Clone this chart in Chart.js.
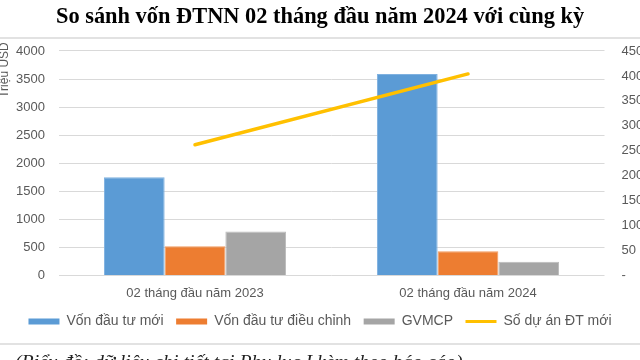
<!DOCTYPE html>
<html>
<head>
<meta charset="utf-8">
<script src="https://cdn.jsdelivr.net/npm/chart.js@4/dist/chart.umd.min.js"></script>
<style>
html,body{margin:0;padding:0;background:#fff;overflow:hidden;}
#wrap{position:relative;width:640px;height:360px;}
</style>
</head>
<body>
<div id="wrap"><canvas id="c" width="640" height="360"></canvas></div>
<script>
const categories = ['02 tháng đầu năm 2023', '02 tháng đầu năm 2024'];
const vonDauTuMoi = [1750, 3590];
const vonDieuChinh = [520, 431];
const gvmcp = [785, 243];
const soDuAnMoi = [262, 404];
const seriesNames = ['Vốn đầu tư mới', 'Vốn đầu tư điều chỉnh', 'GVMCP', 'Số dự án ĐT mới'];
const leftTicks = [0, 500, 1000, 1500, 2000, 2500, 3000, 3500, 4000];
const rightTicks = [0, 50, 100, 150, 200, 250, 300, 350, 400, 450];
const titleText = 'So sánh vốn ĐTNN 02 tháng đầu năm 2024 với cùng kỳ';
const axisTitle = 'Triệu USD';
const captionText = '(Biểu đồ: dữ liệu chi tiết tại Phụ lục I kèm theo báo cáo)';

const FONT = "'Liberation Sans', Arial, sans-serif";
const TXT = '#595959';

const decor = {
  id: 'decor',
  beforeDraw(chart) {
    const ctx = chart.ctx;
    ctx.save();
    ctx.fillStyle = '#e2e2e2';
    ctx.fillRect(0, 37, 640, 2);
    ctx.fillRect(0, 343, 640, 2);
    ctx.restore();
  },
  afterDraw(chart) {
    const ctx = chart.ctx;
    ctx.save();
    ctx.fillStyle = TXT;
    ctx.font = "12px " + FONT;
    ctx.translate(8, 70);
    ctx.rotate(-Math.PI / 2);
    ctx.textAlign = 'center';
    ctx.textBaseline = 'alphabetic';
    ctx.fillText(axisTitle, 0, 0);
    ctx.restore();
    ctx.save();
    ctx.fillStyle = '#222';
    ctx.font = "italic 19.8px 'Liberation Serif', 'Times New Roman', serif";
    ctx.textAlign = 'left';
    ctx.textBaseline = 'alphabetic';
    ctx.fillText(captionText, 15, 368);
    ctx.restore();
  }
};

new Chart(document.getElementById('c'), {
  data: {
    labels: categories,
    datasets: [
      { type: 'bar', label: seriesNames[0], data: vonDauTuMoi, backgroundColor: '#5B9BD5', borderColor: '#7fb1e0', borderWidth: 1, yAxisID: 'y', order: 1 },
      { type: 'bar', label: seriesNames[1], data: vonDieuChinh, backgroundColor: '#ED7D31', borderColor: '#f29a5e', borderWidth: 1, yAxisID: 'y', order: 1 },
      { type: 'bar', label: seriesNames[2], data: gvmcp, backgroundColor: '#A5A5A5', borderColor: '#bcbcbc', borderWidth: 1, yAxisID: 'y', order: 1 },
      { type: 'line', label: seriesNames[3], data: soDuAnMoi, borderColor: '#FFC000', backgroundColor: '#FFC000',
        borderWidth: 3.5, borderCapStyle: 'round', pointRadius: 0, yAxisID: 'y1', order: 0 }
    ]
  },
  options: {
    responsive: false,
    animation: false,
    layout: { padding: { top: 0, left: 0, right: 0, bottom: 21.5 } },
    datasets: { bar: { categoryPercentage: 0.667, barPercentage: 1 } },
    plugins: {
      title: {
        display: true, text: titleText, color: '#000',
        font: { family: "'Liberation Serif', 'Times New Roman', serif", size: 22.4, weight: 'bold' },
        padding: { top: 3.6, bottom: 20.5 }
      },
      legend: {
        position: 'bottom',
        labels: {
          color: TXT, font: { family: FONT, size: 14 }, usePointStyle: true, pointStyleWidth: 31, boxHeight: 6, padding: 12.5,
          sort: (a, b) => a.datasetIndex - b.datasetIndex,
          generateLabels(chart) {
            const items = Chart.defaults.plugins.legend.labels.generateLabels(chart);
            items.forEach(it => {
              if (it.datasetIndex === 3) { it.pointStyle = 'line'; it.lineWidth = 3; it.strokeStyle = '#FFC000'; }
              else { it.pointStyle = 'rect'; it.lineWidth = 0; }
            });
            return items;
          }
        }
      },
      tooltip: { enabled: false }
    },
    scales: {
      x: {
        grid: { display: false, drawTicks: false },
        border: { display: false },
        ticks: { color: TXT, font: { family: FONT, size: 13 }, padding: 10.5 },
        afterFit(s) { s.height = 26.5; }
      },
      y: {
        position: 'left', min: 0, max: 4000,
        afterBuildTicks(s) { s.ticks = leftTicks.map(v => ({ value: v })); },
        grid: { color: '#d9d9d9', lineWidth: 1, drawTicks: false },
        border: { display: false },
        ticks: { color: TXT, font: { family: FONT, size: 13 }, padding: 13.5, callback: v => String(v) },
        afterFit(s) { s.width = 58.5; }
      },
      y1: {
        position: 'right', min: 0, max: 450,
        afterBuildTicks(s) { s.ticks = rightTicks.map(v => ({ value: v })); },
        grid: { display: false, drawTicks: false },
        border: { display: false },
        ticks: { color: TXT, font: { family: FONT, size: 13 }, padding: 17, callback: v => v === 0 ? '-' : String(v) },
        afterFit(s) { s.width = 35.5; }
      }
    }
  },
  plugins: [decor]
});
</script>
</body>
</html>
